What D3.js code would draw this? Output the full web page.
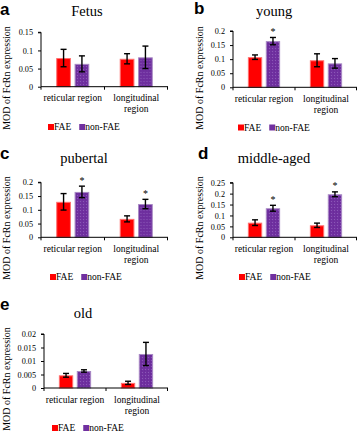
<!DOCTYPE html>
<html>
<head>
<meta charset="utf-8">
<script src="https://cdn.jsdelivr.net/npm/d3@7"></script>
<style>
  html, body { margin: 0; padding: 0; background: #fff; }
  svg { display: block; }
  text { font-family: "Liberation Serif", "DejaVu Serif", "Times New Roman", serif; fill: #000; }
</style>
</head>
<body>
<svg id="chart" width="357" height="434"></svg>
<script>
// ---------- data ----------
const categories = ["reticular region", "longitudinal region"];
const seriesNames = ["FAE", "non-FAE"];
const panelLetters = ["a", "b", "c", "d", "e"];
const panelTitles = ["Fetus", "young", "pubertal", "middle-aged", "old"];
const faeValues    = [[0.079, 0.077], [0.107, 0.096], [0.129, 0.067], [0.067, 0.055], [0.0047, 0.0019]];
const faeErrors    = [[0.024, 0.014], [0.008, 0.023], [0.030, 0.011], [0.013, 0.010], [0.0007, 0.0006]];
const nonFaeValues = [[0.063, 0.081], [0.164, 0.085], [0.165, 0.121], [0.133, 0.197], [0.0063, 0.0126]];
const nonFaeErrors = [[0.022, 0.031], [0.013, 0.017], [0.021, 0.017], [0.0135, 0.011], [0.00045, 0.0043]];
const significant  = [[false, false], [true, false], [true, true], [true, true], [false, false]];
const yMax = [0.15, 0.2, 0.2, 0.25, 0.02];
const yTickValues = [
  [0, 0.05, 0.1, 0.15],
  [0, 0.05, 0.1, 0.15, 0.2],
  [0, 0.05, 0.1, 0.15, 0.2],
  [0, 0.05, 0.1, 0.15, 0.2, 0.25],
  [0, 0.005, 0.01, 0.015, 0.02]
];
const yTickLabels = [
  ["0", "0.05", "0.1", "0.15"],
  ["0", "0.05", "0.1", "0.15", "0.2"],
  ["0", "0.05", "0.1", "0.15", "0.2"],
  ["0", "0.05", "0.1", "0.15", "0.2", "0.25"],
  ["0", "0.005", "0.01", "0.015", "0.02"]
];
const yAxisTitle = "MOD of FcRn expression";

// ---------- layout ----------
const layouts = [
  { ax: 41,  ax2: 168, top: 32.3,  bot: 86.7,  lx: 0,   ly: 15,  tx: 87,  ty: 16,  yl: 10,  ylc: 78,  gx: 48,  gy: 127 },
  { ax: 233, ax2: 357, top: 31,    bot: 87.3,  lx: 194, ly: 14,  tx: 274, ty: 16,  yl: 203, ylc: 78,  gx: 238, gy: 127.5 },
  { ax: 41,  ax2: 168, top: 182.3, bot: 237.3, lx: 0,   ly: 159, tx: 84,  ty: 163, yl: 10,  ylc: 228, gx: 50,  gy: 277 },
  { ax: 233, ax2: 357, top: 182.7, bot: 237.3, lx: 198, ly: 159, tx: 274, ty: 163, yl: 203, ylc: 228, gx: 239, gy: 277 },
  { ax: 44,  ax2: 168, top: 334,   bot: 388,   lx: 0,   ly: 310, tx: 83,  ty: 318, yl: 10,  ylc: 379, gx: 52,  gy: 428 }
];

const colors = { "FAE": "#ff0000", "non-FAE": "#7030a0" };
const strokes = { "FAE": "#ff6f6f", "non-FAE": "#a889c4" };

const svg = d3.select("#chart");
const defs = svg.append("defs");
const pat = defs.append("pattern").attr("id", "dots").attr("patternUnits", "userSpaceOnUse")
  .attr("width", 3).attr("height", 3);
pat.append("rect").attr("width", 3).attr("height", 3).attr("fill", colors["non-FAE"]);
pat.append("rect").attr("x", 0).attr("y", 0).attr("width", 1).attr("height", 1).attr("fill", "#8a58b6");
pat.append("rect").attr("x", 2).attr("y", 1.5).attr("width", 0.8).attr("height", 0.8).attr("fill", "#5e2490");
const fills = { "FAE": colors["FAE"], "non-FAE": "url(#dots)" };

panelTitles.forEach((title, i) => {
  const L = layouts[i];
  const g = svg.append("g");

  const x0 = d3.scaleBand().domain(categories).range([L.ax, L.ax2]).padding(0);
  const x1 = d3.scaleBand().domain(seriesNames).range([0, x0.bandwidth()])
    .paddingInner(0.2).paddingOuter(0.83);
  const y = d3.scaleLinear().domain([0, yMax[i]]).range([L.bot, L.top]);

  // panel letter
  g.append("text").attr("x", L.lx).attr("y", L.ly).text(panelLetters[i])
    .style("font-family", "'Liberation Sans', Arial, sans-serif")
    .style("font-weight", "bold").style("font-size", "17px");

  // title
  g.append("text").attr("x", L.tx).attr("y", L.ty).attr("text-anchor", "middle")
    .style("font-size", "14.5px").text(title);

  // y axis title
  g.append("text").attr("transform", `translate(${L.yl},${L.ylc}) rotate(-90)`)
    .attr("text-anchor", "middle").style("font-size", "10px").text(yAxisTitle);

  // y axis
  const yAxis = d3.axisLeft(y).tickValues(yTickValues[i]).tickSize(3).tickPadding(5)
    .tickFormat((d, k) => yTickLabels[i][k]);
  const ya = g.append("g").attr("transform", `translate(${L.ax},0)`).call(yAxis);
  ya.select(".domain").attr("d", `M-3,${L.top}H0V${L.bot}`).attr("stroke", "#000");
  ya.selectAll("text").style("font-size", "8.2px")
    .style("font-family", "'Liberation Serif', 'DejaVu Serif', serif");

  // data rows
  const rows = categories.map((c, k) => ({
    cat: c,
    bars: [
      { s: "FAE", v: faeValues[i][k], e: faeErrors[i][k], sig: false },
      { s: "non-FAE", v: nonFaeValues[i][k], e: nonFaeErrors[i][k], sig: significant[i][k] }
    ]
  }));

  const cg = g.selectAll(".cat").data(rows).enter().append("g")
    .attr("transform", d => `translate(${x0(d.cat)},0)`);

  cg.selectAll("rect.bar").data(d => d.bars).enter().append("rect").attr("class", "bar")
    .attr("x", d => x1(d.s) + 0.5).attr("width", x1.bandwidth() - 1)
    .attr("y", d => y(d.v) + 0.5).attr("height", d => Math.max(0, y(0) - y(d.v) - 0.5))
    .attr("fill", d => fills[d.s]).attr("stroke", d => strokes[d.s]).attr("stroke-width", 1);

  // error bars
  const eb = cg.selectAll("g.err").data(d => d.bars).enter().append("g").attr("class", "err");
  const cx = d => x1(d.s) + x1.bandwidth() / 2;
  eb.append("line").attr("x1", cx).attr("x2", cx)
    .attr("y1", d => y(d.v + d.e)).attr("y2", d => y(d.v - d.e))
    .attr("stroke", "#000").attr("stroke-width", 1.4);
  eb.append("line").attr("x1", d => cx(d) - 3).attr("x2", d => cx(d) + 3)
    .attr("y1", d => y(d.v + d.e)).attr("y2", d => y(d.v + d.e))
    .attr("stroke", "#000").attr("stroke-width", 1.4);
  eb.append("line").attr("x1", d => cx(d) - 3).attr("x2", d => cx(d) + 3)
    .attr("y1", d => y(d.v - d.e)).attr("y2", d => y(d.v - d.e))
    .attr("stroke", "#000").attr("stroke-width", 1.4);
  eb.filter(d => d.sig).append("text").attr("x", cx)
    .attr("y", d => y(d.v + d.e) - 2.5).attr("text-anchor", "middle")
    .style("font-size", "10px").text("*");

  // x axis
  g.append("line").attr("x1", L.ax).attr("x2", L.ax2).attr("y1", L.bot).attr("y2", L.bot)
    .attr("stroke", "#000").attr("stroke-width", 1);
  const bounds = categories.map(c => x0(c)).concat([L.ax2 - 0.5]);
  g.selectAll(".xt").data(bounds).enter().append("line")
    .attr("x1", d => d).attr("x2", d => d).attr("y1", L.bot).attr("y2", L.bot + 3)
    .attr("stroke", "#000").attr("stroke-width", 1);

  // category labels (wrapped when wider than the band)
  categories.forEach(c => {
    const cxm = x0(c) + x0.bandwidth() / 2;
    const t = g.append("text").attr("x", cxm).attr("y", L.bot + 14.5)
      .attr("text-anchor", "middle").style("font-size", "9.5px").text(c);
    if (t.node().getComputedTextLength() > x0.bandwidth() + 2) {
      const words = c.split(" ");
      t.text(null);
      words.forEach((w, wi) => {
        t.append("tspan").attr("x", cxm).attr("dy", wi === 0 ? 0 : 11).text(w);
      });
    }
  });

  // legend
  const lg = g.append("g").attr("transform", `translate(${L.gx},${L.gy})`);
  let off = 0;
  seriesNames.forEach(s => {
    lg.append("rect").attr("x", off).attr("y", -3).attr("width", 6).attr("height", 6)
      .attr("fill", colors[s]);
    const tt = lg.append("text").attr("x", off + 6).attr("y", 3.3)
      .style("font-size", "9.5px").text(s);
    off += 6 + tt.node().getComputedTextLength() + 8;
  });
});
</script>
</body>
</html>
